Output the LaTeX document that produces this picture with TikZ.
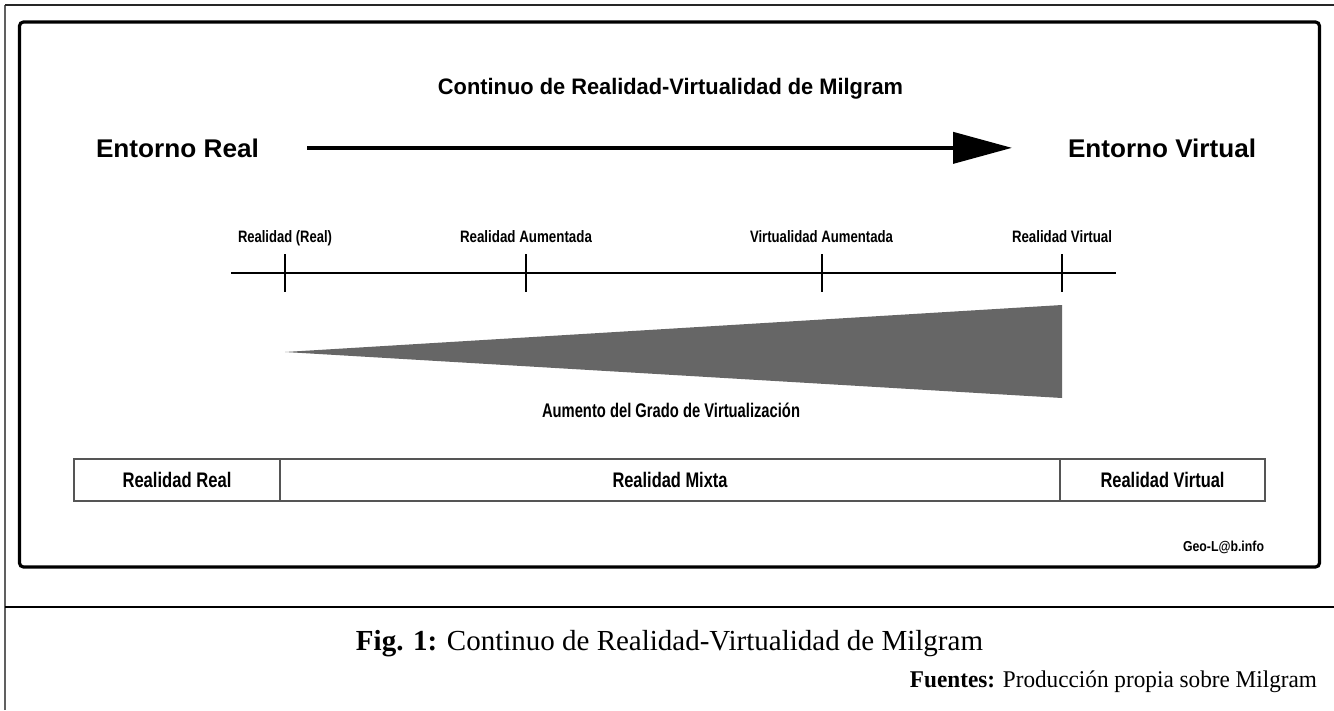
\documentclass[tikz,border=0pt]{standalone}
\usepackage{fontspec}
\setmainfont{Liberation Serif}
\setsansfont{Liberation Sans}
\usepackage{graphicx}
\usetikzlibrary{arrows.meta}
\newcommand\fitw[2]{\resizebox{\dimexpr 0.75pt*#1\relax}{\height}{#2}}
\newcommand\fsz[1]{\fontsize{#1}{#1}\selectfont}
\definecolor{wedgegray}{HTML}{666666}
\definecolor{boxline}{HTML}{555555}
\tikzset{
  sanstxt/.style={font=\sffamily\bfseries, inner sep=0pt, outer sep=0pt, text=black},
  serftxt/.style={font=\rmfamily, inner sep=0pt, outer sep=0pt, text=black},
  axisline/.style={line width=1.1pt, black},
  tickline/.style={line width=1.1pt, black},
  catbox/.style={draw=boxline, line width=1.4pt, rectangle, inner sep=0pt,
    minimum height=31.5pt, font=\sffamily\bfseries\fsz{15.8}},
  mainarrow/.style={line width=3pt, -{Triangle[length=44.25pt,width=23.25pt]}},
}
\begin{document}
\begin{tikzpicture}[x=0.75pt,y=-0.75pt]
\useasboundingbox (0,0) rectangle (1334,710);
\fill[white] (0,0) rectangle (1334,710);
% outer page lines
\draw[gray!75!black, line width=1.1pt] (5,710) -- (5,5);
\draw[black!85, line width=1.1pt] (5,5) -- (1334,5);
\draw[black, line width=1pt] (5,607) -- (1334,607);
% inner frame
\draw[black, line width=2.4pt, rounded corners=3pt] (19.5,22) rectangle (1319.5,567);

% title
\node[sanstxt, anchor=base, font=\sffamily\bfseries\fsz{16.8}] (title) at (670.5,94)
  {\fitw{465}{Continuo de Realidad-Virtualidad de Milgram}};
% environments
\node[sanstxt, anchor=base west, font=\sffamily\bfseries\fsz{19.2}] (er) at (96,157)
  {\fitw{163}{Entorno Real}};
\node[sanstxt, anchor=base west, font=\sffamily\bfseries\fsz{19.2}] (ev) at (1068,157)
  {\fitw{188}{Entorno Virtual}};
\draw[mainarrow, shorten <=36pt, shorten >=42pt] (er.east) -- (ev.west);

% continuum axis
\coordinate (axL) at (231,273);
\coordinate (axR) at (1116,273);
\draw[axisline] (axL) -- (axR);
\node[sanstxt, anchor=base, font=\sffamily\bfseries\fsz{12.4}] (l1) at (285,242) {\fitw{94}{Realidad (Real)}};
\node[sanstxt, anchor=base, font=\sffamily\bfseries\fsz{12.4}] (l2) at (526,242) {\fitw{132}{Realidad Aumentada}};
\node[sanstxt, anchor=base, font=\sffamily\bfseries\fsz{12.4}] (l3) at (821.5,242) {\fitw{143}{Virtualidad Aumentada}};
\node[sanstxt, anchor=base, font=\sffamily\bfseries\fsz{12.4}] (l4) at (1062,242) {\fitw{100}{Realidad Virtual}};
\coordinate (k1a) at (285,254); \coordinate (k1b) at (285,292);
\coordinate (k2a) at (526,254); \coordinate (k2b) at (526,292);
\coordinate (k3a) at (822,254); \coordinate (k3b) at (822,292);
\coordinate (k4a) at (1062,254); \coordinate (k4b) at (1062,292);
\draw[tickline] (k1a) -- (k1b);
\draw[tickline] (k2a) -- (k2b);
\draw[tickline] (k3a) -- (k3b);
\draw[tickline] (k4a) -- (k4b);

% wedge
\coordinate (wtip) at (285,352);
\coordinate (wtop) at (1062,305);
\coordinate (wbot) at (1062,398);
\fill[wedgegray] (wtip) -- (wtop) -- (wbot) -- cycle;
\node[sanstxt, anchor=base, font=\sffamily\bfseries\fsz{14.8}] (aum) at (671,417)
  {\fitw{258}{Aumento del Grado de Virtualización}};

% category boxes
\node[catbox, minimum width=154.5pt] (rr) at (177,480) {\fitw{109}{Realidad Real}};
\node[catbox, minimum width=585pt] (rm) at (670,480) {\fitw{115}{Realidad Mixta}};
\node[catbox, minimum width=153.75pt] (rv) at (1162.5,480) {\fitw{124}{Realidad Virtual}};

% credit
\node[sanstxt, anchor=base west, font=\sffamily\bfseries\fsz{10.8}] (geo) at (1183,551) {\fitw{81}{Geo-L@b.info}};

% caption
\node[serftxt, anchor=base, font=\rmfamily\fsz{21.8}] (cap) at (669.5,650)
  {\fitw{627}{\textbf{Fig. 1:} Continuo de Realidad-Virtualidad de Milgram}};
\node[serftxt, anchor=base east, font=\rmfamily\fsz{18}] (src) at (1317,687)
  {\fitw{407}{\textbf{Fuentes:} Producción propia sobre Milgram}};
\end{tikzpicture}
\end{document}
